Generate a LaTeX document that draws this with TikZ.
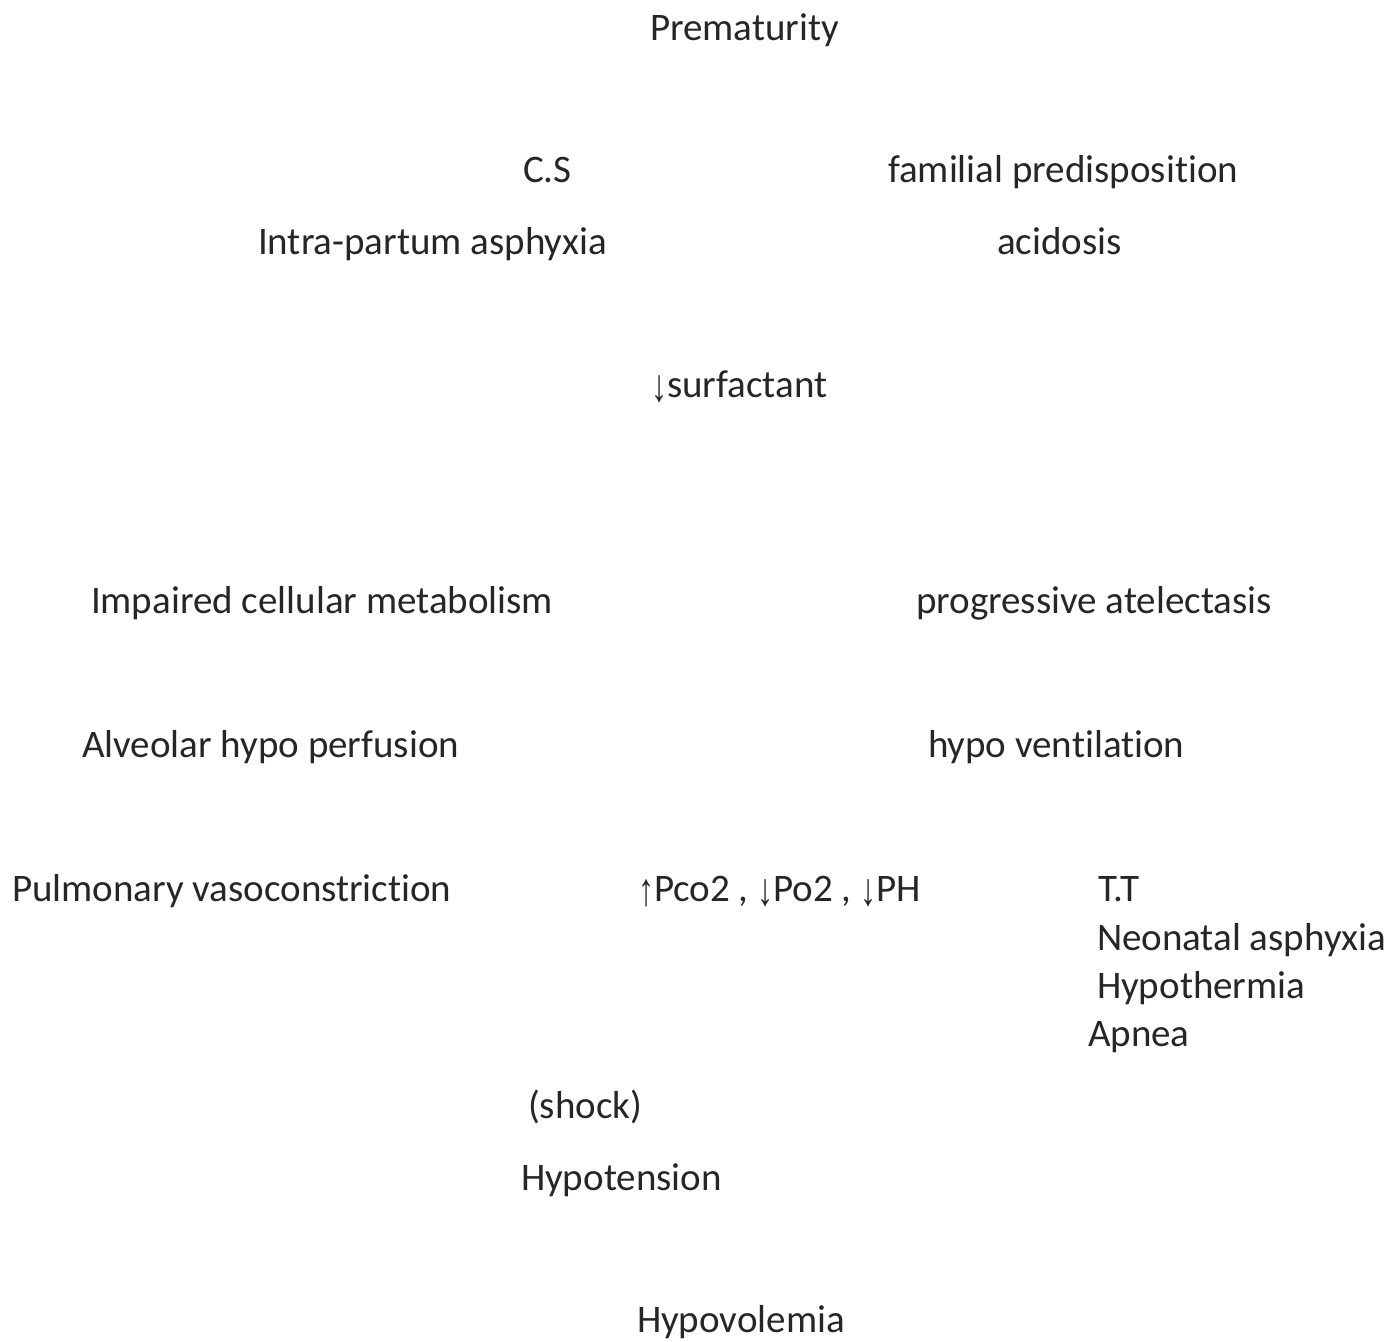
\documentclass[tikz,border=0pt]{standalone}
\usepackage{fontspec}
\setmainfont{Carlito}[Ligatures={NoCommon}]
\newfontfamily\arrowfont{Liberation Sans}
\usepackage{tikz}
\usetikzlibrary{positioning}

\newcommand{\dn}{{\arrowfont\fontsize{23pt}{26pt}\selectfont\raisebox{-2pt}{\scalebox{0.7}[1]{↓}}}}
\newcommand{\up}{{\arrowfont\fontsize{23pt}{26pt}\selectfont\raisebox{-2pt}{\scalebox{0.7}[1]{↑}}}}

\begin{document}
\begin{tikzpicture}[x=0.5pt, y=-0.5pt]
  \begin{scope} [
    every node/.style={inner sep=0pt, outer sep=0pt, anchor=base west,
      font=\fontsize{19.5pt}{23pt}\selectfont, text=black!85},
    cause/.style={},
    effect/.style={},
    sign/.style={}]
    \useasboundingbox (0,0) rectangle (1396,1341);
    \node [cause] (premat) at (650,40) {Prematurity};
    \node [cause] (cs) at (523,182) {C.S};
    \node [cause] (familial) at (888,182) {familial predisposition};
    \node [cause] (intrapartum) at (258,254) {Intra-partum asphyxia};
    \node [cause] (acidosis) at (997,254) {acidosis};
    \node [effect] (surfactant) at (651,397) {\dn surfactant};
    \node [effect] (metabolism) at (91,613) {Impaired cellular metabolism};
    \node [effect] (atelectasis) at (916,613) {progressive atelectasis};
    \node [effect] (perfusion) at (82,757) {Alveolar hypo perfusion};
    \node [effect] (ventilation) at (928,757) {hypo ventilation};
    \node [effect] (vasocon) at (12,901) {Pulmonary vasoconstriction};
    \node [effect] (gases) at (638,901) {\up Pco2 , \dn Po2 , \dn PH};
    \node [sign] (tt) at (1098,901) {T.T};
    \node [sign] (neonatal) at (1097,950) {Neonatal asphyxia};
    \node [sign] (hypothermia) at (1097,998) {Hypothermia};
    \node [sign] (apnea) at (1088,1046) {Apnea};
    \node [effect] (shock) at (528,1118) {(shock)};
    \node [effect] (hypotension) at (521,1190) {Hypotension};
    \node [effect] (hypovolemia) at (637,1332) {Hypovolemia};
  \end{scope}
\end{tikzpicture}
\end{document}
